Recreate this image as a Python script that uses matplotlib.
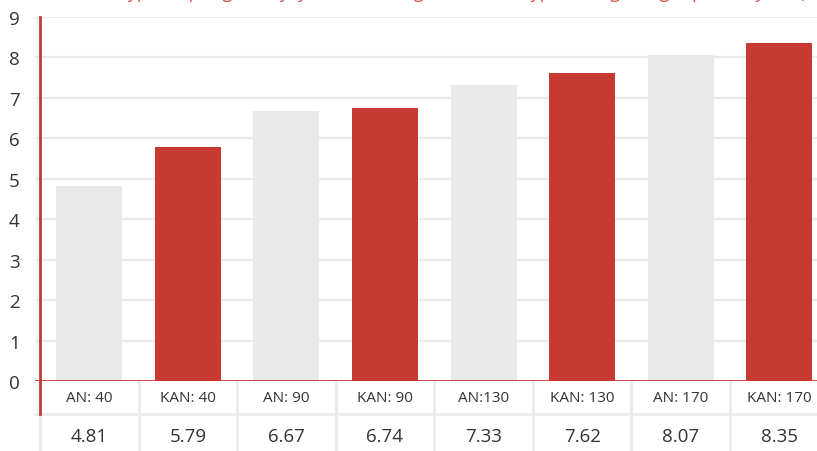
import numpy as np
import matplotlib.pyplot as plt

# data
categories = ['AN: 40', 'KAN: 40', 'AN: 90', 'KAN: 90', 'AN:130', 'KAN: 130', 'AN: 170', 'KAN: 170']
yields = [4.81, 5.79, 6.67, 6.74, 7.33, 7.62, 8.07, 8.35]
value_labels = ['4.81', '5.79', '6.67', '6.74', '7.33', '7.62', '8.07', '8.35']
y_ticks = list(range(0, 10))
title = 'Typical spring barley, yield according to fertilizer type, nitrogen, kg N per ha, yield (t/ha)'

red = '#c63a32'
grey_bar = '#e9e9e9'
grid_col = '#ebebeb'
text_col = '#333333'

plt.rcParams['font.family'] = ['Open Sans', 'DejaVu Sans']

fig = plt.figure(figsize=(8.17, 4.52), dpi=100)
# axes spans past the right edge, like the original which is cut off
ax = fig.add_axes([35 / 817, 1 - 382 / 452, 782 / 817, 364 / 452])

x = np.arange(len(categories))
colors = [grey_bar if i % 2 == 0 else red for i in range(len(categories))]
ax.bar(x, yields, width=0.67, color=colors, zorder=2)

ax.set_xlim(-0.551, 7.383)
ax.set_ylim(0, 9)
for s in ax.spines.values():
    s.set_visible(False)

ax.set_yticks(y_ticks)
ax.set_yticklabels([str(t) for t in y_ticks], fontsize=13.5, color=text_col)
ax.tick_params(axis='y', length=0, pad=11)
ax.set_xticks([])
for t in y_ticks[1:]:
    ax.axhline(t, color=grid_col, lw=1.6, zorder=1)

# table below the axis
row_sep = -0.82
bottom = -1.8
ax.plot([-0.551, 7.383], [row_sep, row_sep], color=grid_col, lw=2, clip_on=False, zorder=1)
for k in range(len(categories)):
    ax.plot([k + 0.5, k + 0.5], [0, bottom], color=grid_col, lw=2, clip_on=False, zorder=1)
ax.plot([-0.5, -0.5], [row_sep, bottom], color=grid_col, lw=2, clip_on=False, zorder=1)
for i, (c, v) in enumerate(zip(categories, value_labels)):
    ax.text(i, -0.42, c, ha='center', va='center', fontsize=11, color=text_col, clip_on=False)
    ax.text(i, -1.36, v, ha='center', va='center', fontsize=13.5, color=text_col, clip_on=False)

# red axis lines
ax.axhline(0, color=red, lw=2, zorder=3)
ax.plot([-0.5, -0.5], [9, row_sep], color=red, lw=2, clip_on=False, zorder=3)

# title, mostly clipped at the top as in the original
fig.text(118 / 817, 1 + 1.5 / 452, title, ha='left', va='baseline', fontsize=13, color='#d9534f')

fig.savefig('out.png', dpi=100)
